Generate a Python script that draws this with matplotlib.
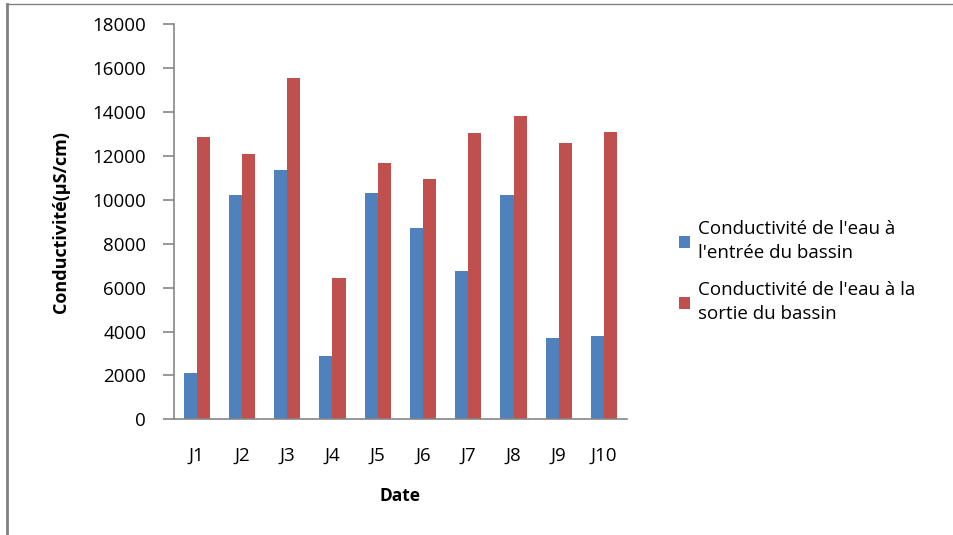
import matplotlib.pyplot as plt
import numpy as np
from matplotlib.lines import Line2D

plt.rcParams["font.family"] = ["Open Sans", "DejaVu Sans"]

jours = ["J1", "J2", "J3", "J4", "J5", "J6", "J7", "J8", "J9", "J10"]
entree = [2100, 10200, 11350, 2900, 10300, 8700, 6750, 10200, 3700, 3800]
sortie = [12850, 12100, 15550, 6450, 11700, 10950, 13050, 13800, 12600, 13100]

label_entree = "Conductivité de l'eau à\nl'entrée du bassin"
label_sortie = "Conductivité de l'eau à la\nsortie du bassin"

BLEU = "#4F81BD"
ROUGE = "#C0504D"
GRIS = "#868686"

fig = plt.figure(figsize=(9.54, 5.35), dpi=100)
ax = fig.add_axes([0.1824, 0.2163, 0.657 - 0.1824, 0.9546 - 0.2163])

x = np.arange(len(jours))
w = 0.29
ax.bar(x - w / 2, entree, width=w, color=BLEU, label=label_entree)
ax.bar(x + w / 2, sortie, width=w, color=ROUGE, label=label_sortie)

ax.set_xlim(-0.5, len(jours) - 0.5)
ax.set_ylim(0, 18000)
ax.set_yticks(np.arange(0, 18001, 2000))
ax.set_xticks(x)
ax.set_xticklabels(jours)

for s in ["top", "right"]:
    ax.spines[s].set_visible(False)
for s in ["left", "bottom"]:
    ax.spines[s].set_color(GRIS)
    ax.spines[s].set_linewidth(1.2)
ax.tick_params(axis="y", direction="out", length=8, width=1.2, color=GRIS,
               labelsize=13.5, pad=12, labelcolor="black")
ax.tick_params(axis="x", length=0, labelsize=13.5, pad=20, labelcolor="black")

ax.set_ylabel("Conductivité(µS/cm)", fontsize=13, fontweight="bold", labelpad=16)
ax.set_xlabel("Date", fontsize=12.5, fontweight="bold", labelpad=16)

leg = fig.legend(loc="center left", bbox_to_anchor=(0.694, 0.492), frameon=False,
                 fontsize=13.5, handlelength=0.6, handleheight=0.6,
                 handletextpad=0.4, labelspacing=1.0)
for t in leg.get_texts():
    t.set_linespacing(1.45)

# cadre partiel de la zone graphique
fig.add_artist(Line2D([0.0073, 0.0073], [0, 0.992], transform=fig.transFigure,
                      color="#808080", linewidth=2))
fig.add_artist(Line2D([0.0073, 1.0], [0.992, 0.992], transform=fig.transFigure,
                      color="#808080", linewidth=1))

fig.savefig("out.png", dpi=100)
